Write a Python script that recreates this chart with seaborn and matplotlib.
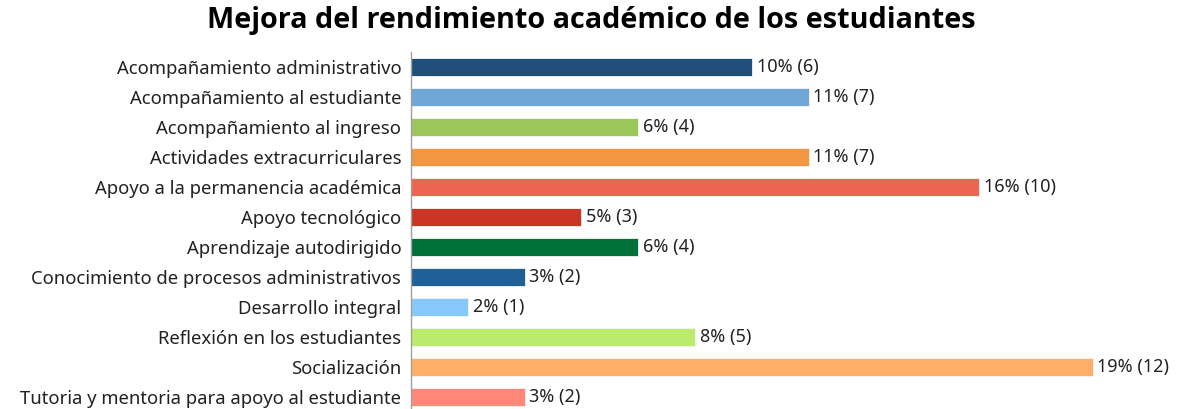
import matplotlib
matplotlib.use("Agg")
import matplotlib.pyplot as plt
import seaborn as sns
import pandas as pd

# Data
categorias = [
    "Acompañamiento administrativo",
    "Acompañamiento al estudiante",
    "Acompañamiento al ingreso",
    "Actividades extracurriculares",
    "Apoyo a la permanencia académica",
    "Apoyo tecnológico",
    "Aprendizaje autodirigido",
    "Conocimiento de procesos administrativos",
    "Desarrollo integral",
    "Reflexión en los estudiantes",
    "Socialización",
    "Tutoria y mentoria para apoyo al estudiante",
]
conteos = [6, 7, 4, 7, 10, 3, 4, 2, 1, 5, 12, 2]
porcentajes = [10, 11, 6, 11, 16, 5, 6, 3, 2, 8, 19, 3]
colores = [
    "#1F4E79", "#6FA8D6", "#9BC65A", "#F39641", "#EE6651", "#CC3526",
    "#00703A", "#1F6096", "#87C8FA", "#BAEB6C", "#FFB068", "#FF8878",
]

df = pd.DataFrame({"categoria": categorias, "conteo": conteos})

sns.set_style("white")
plt.rcParams["font.family"] = ["Noto Sans", "DejaVu Sans"]

fig = plt.figure(figsize=(11.78, 4.09), dpi=100)
ax = fig.add_axes([411 / 1178, -3 / 409, 760 / 1178, 360 / 409])

sns.barplot(data=df, y="categoria", x="conteo", hue="categoria",
            palette=colores, saturation=1, legend=False, orient="h",
            width=0.58, edgecolor="#F4F4F4", linewidth=0.6, ax=ax)

etiquetas = [f"{p}% ({c})" for p, c in zip(porcentajes, conteos)]
for cont, lab in zip(ax.containers, etiquetas):
    ax.bar_label(cont, labels=[lab], padding=3.5, fontsize=13, color="#222222")

ax.set_xlim(0, 760 / 56.8)
ax.set_ylim(11.5, -0.5)
ax.set_xlabel("")
ax.set_ylabel("")
ax.set_xticks([])
ax.tick_params(axis="y", length=0, labelsize=13.3, labelcolor="#222222", pad=7)
for s in ["top", "right", "bottom"]:
    ax.spines[s].set_visible(False)
ax.spines["left"].set_color("#A0A0A0")
ax.spines["left"].set_linewidth(1)

fig.suptitle("Mejora del rendimiento académico de los estudiantes",
             x=591 / 1178, y=1 - 6 / 409, fontsize=20.8, fontweight="bold",
             va="top", family=["Open Sans", "DejaVu Sans"], color="black")

fig.savefig("out.png", dpi=100)
